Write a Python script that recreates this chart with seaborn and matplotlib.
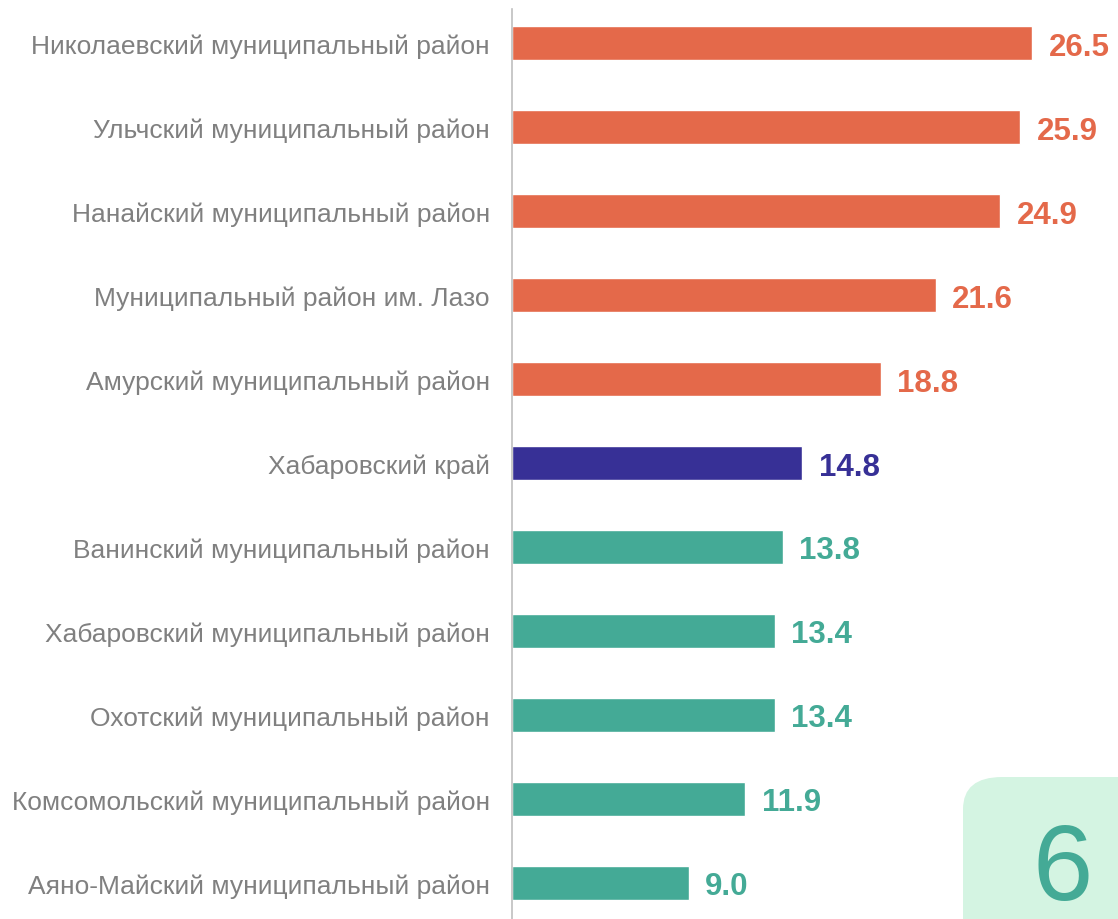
from matplotlib import pyplot as plt
from matplotlib.patches import FancyBboxPatch
import pandas as pd
import seaborn as sns

# data
districts = [
    'Николаевский муниципальный район',
    'Ульчский муниципальный район',
    'Нанайский муниципальный район',
    'Муниципальный район им. Лазо',
    'Амурский муниципальный район',
    'Хабаровский край',
    'Ванинский муниципальный район',
    'Хабаровский муниципальный район',
    'Охотский муниципальный район',
    'Комсомольский муниципальный район',
    'Аяно-Майский муниципальный район',
]
values = [26.5, 25.9, 24.9, 21.6, 18.8, 14.8, 13.8, 13.4, 13.4, 11.9, 9.0]
groups = ['above'] * 5 + ['region'] + ['below'] * 5

colors = {'above': '#E4694A', 'region': '#373096', 'below': '#44AA96'}

df = pd.DataFrame({'district': districts, 'value': values, 'group': groups})

sns.set_style('white')
plt.rcParams['font.family'] = ['Liberation Sans', 'DejaVu Sans']

fig = plt.figure(figsize=(11.18, 9.2), dpi=100)
ax = fig.add_axes([0.458, 0.0, 0.535, 0.989])

sns.barplot(data=df, x='value', y='district', hue='group', palette=colors,
            dodge=False, width=0.4, legend=False, saturation=1, ax=ax)

for cont in ax.containers:
    # colour of label follows the bar colour
    c = cont.patches[0].get_facecolor()
    txts = ax.bar_label(cont, fmt='%.1f', padding=12, color=c,
                        fontsize=22.5, fontweight='bold')
    for t in txts:
        t.set_va('center_baseline')

ax.set_xlim(0, 30.5)
ax.set_ylim(10.43, -0.405)
ax.set_xlabel('')
ax.set_ylabel('')
ax.set_xticks([])
ax.tick_params(axis='y', length=0, pad=16, labelsize=19, labelcolor='#808080')

for s in ['top', 'right', 'bottom']:
    ax.spines[s].set_visible(False)
ax.spines['left'].set_color('#BFBFBF')
ax.spines['left'].set_linewidth(1.2)

# page number badge in the corner
badge = FancyBboxPatch((963 / 1118, -0.1), 0.3, 0.1 + 142 / 920,
                       boxstyle='round,pad=0,rounding_size=0.035',
                       transform=fig.transFigure, facecolor='#D4F4E2',
                       edgecolor='none', zorder=0)
fig.patches.append(badge)
fig.text(1063 / 1118, 1 - 872 / 920, '6', color='#44AA96', fontsize=78,
         ha='center', va='center')

fig.savefig('out.png', dpi=100)
